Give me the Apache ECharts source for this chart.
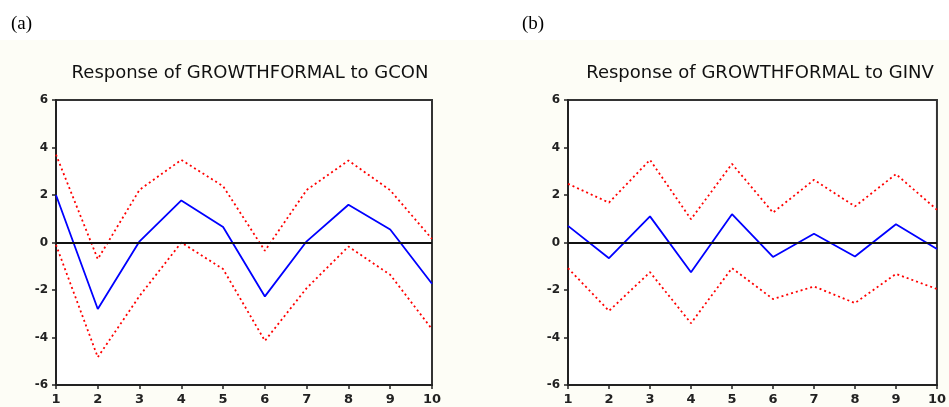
<!DOCTYPE html>
<html>
<head>
<meta charset="utf-8">
<script src="https://cdn.jsdelivr.net/npm/echarts@6/dist/echarts.min.js"></script>
<style>
  html, body { margin: 0; padding: 0; background: #ffffff; }
  #chart { width: 949px; height: 407px; }
</style>
</head>
<body>
<div id="chart"></div>
<script>
// Impulse-response horizons (periods)
const periods = [1, 2, 3, 4, 5, 6, 7, 8, 9, 10];

// (a) Response of GROWTHFORMAL to GCON
const gconResponse = [2.0, -2.8, 0.05, 1.77, 0.65, -2.27, 0.05, 1.59, 0.55, -1.74];
const gconUpper    = [3.7, -0.7, 2.22, 3.48, 2.37, -0.35, 2.21, 3.45, 2.2, 0.15];
const gconLower    = [-0.1, -4.83, -2.25, 0.0, -1.12, -4.14, -1.92, -0.17, -1.36, -3.65];

// (b) Response of GROWTHFORMAL to GINV
const ginvResponse = [0.7, -0.66, 1.1, -1.25, 1.19, -0.61, 0.37, -0.59, 0.77, -0.27];
const ginvUpper    = [2.47, 1.68, 3.48, 0.98, 3.31, 1.26, 2.64, 1.52, 2.88, 1.38];
const ginvLower    = [-1.08, -2.88, -1.25, -3.4, -1.08, -2.38, -1.85, -2.55, -1.32, -1.96];

const yTicks = [-6, -4, -2, 0, 2, 4, 6];
const panelTags = ['(a)', '(b)'];
const panelTitles = ['Response of GROWTHFORMAL to GCON', 'Response of GROWTHFORMAL to GINV'];

const pairs = vals => periods.map((p, i) => [p, vals[i]]);

const grids = [
  { left: 56, top: 100, width: 376, height: 285 },
  { left: 568, top: 100, width: 375, height: 285 }
];

const axisFont = { fontFamily: 'DejaVu Sans', fontSize: 12, fontWeight: 'bold', color: '#222' };

function xAxisFor(idx) {
  return {
    type: 'value', gridIndex: idx, min: 1, max: 10, interval: 1,
    axisLine: { onZero: false, lineStyle: { color: '#222', width: 2 } },
    axisTick: { show: true, length: 4, lineStyle: { color: '#222', width: 1.5 } },
    axisLabel: Object.assign({ margin: 8 }, axisFont, { fontSize: 13 }),
    splitLine: { show: false }
  };
}
function yAxisFor(idx) {
  return {
    type: 'value', gridIndex: idx, min: yTicks[0], max: yTicks[yTicks.length - 1], interval: 2,
    axisLine: { show: true, lineStyle: { color: '#222', width: 2 } },
    axisTick: { show: true, length: 4, lineStyle: { color: '#222', width: 1.5 } },
    axisLabel: Object.assign({ margin: 8 }, axisFont),
    splitLine: { show: false }
  };
}

function panelSeries(idx, resp, up, lo) {
  const base = { type: 'line', xAxisIndex: idx, yAxisIndex: idx, showSymbol: false, silent: true, animation: false };
  return [
    Object.assign({}, base, {
      data: pairs(up),
      lineStyle: { color: '#ff0000', width: 1.8, type: [2, 3] }
    }),
    Object.assign({}, base, {
      data: pairs(lo),
      lineStyle: { color: '#ff0000', width: 1.8, type: [2, 3] }
    }),
    Object.assign({}, base, {
      data: pairs(resp),
      lineStyle: { color: '#0000ff', width: 1.8 },
      z: 3,
      markLine: {
        silent: true, symbol: 'none', animation: false,
        label: { show: false },
        lineStyle: { color: '#111', width: 2, type: 'solid' },
        data: [{ yAxis: 0 }]
      }
    })
  ];
}

const chart = echarts.init(document.getElementById('chart'), null, { renderer: 'canvas' });
chart.setOption({
  animation: false,
  backgroundColor: '#ffffff',
  graphic: [
    { type: 'rect', z: -100, silent: true, shape: { x: 0, y: 40, width: 949, height: 367 }, style: { fill: '#fdfdf6' } },
    { type: 'text', left: 11, top: 15, style: { text: panelTags[0], font: '19px "Liberation Serif"', fill: '#000' } },
    { type: 'text', left: 522, top: 15, style: { text: panelTags[1], font: '19px "Liberation Serif"', fill: '#000' } }
  ],
  title: [
    { text: panelTitles[0], left: 245, top: 59, textAlign: 'center',
      textStyle: { fontFamily: 'DejaVu Sans', fontSize: 18, fontWeight: 'normal', color: '#111' } },
    { text: panelTitles[1], left: 755, top: 59, textAlign: 'center',
      textStyle: { fontFamily: 'DejaVu Sans', fontSize: 18, fontWeight: 'normal', color: '#111' } }
  ],
  grid: grids.map(g => Object.assign({ show: true, backgroundColor: '#ffffff', borderColor: '#333', borderWidth: 2 }, g)),
  xAxis: [xAxisFor(0), xAxisFor(1)],
  yAxis: [yAxisFor(0), yAxisFor(1)],
  series: [
    ...panelSeries(0, gconResponse, gconUpper, gconLower),
    ...panelSeries(1, ginvResponse, ginvUpper, ginvLower)
  ]
});
</script>
</body>
</html>
